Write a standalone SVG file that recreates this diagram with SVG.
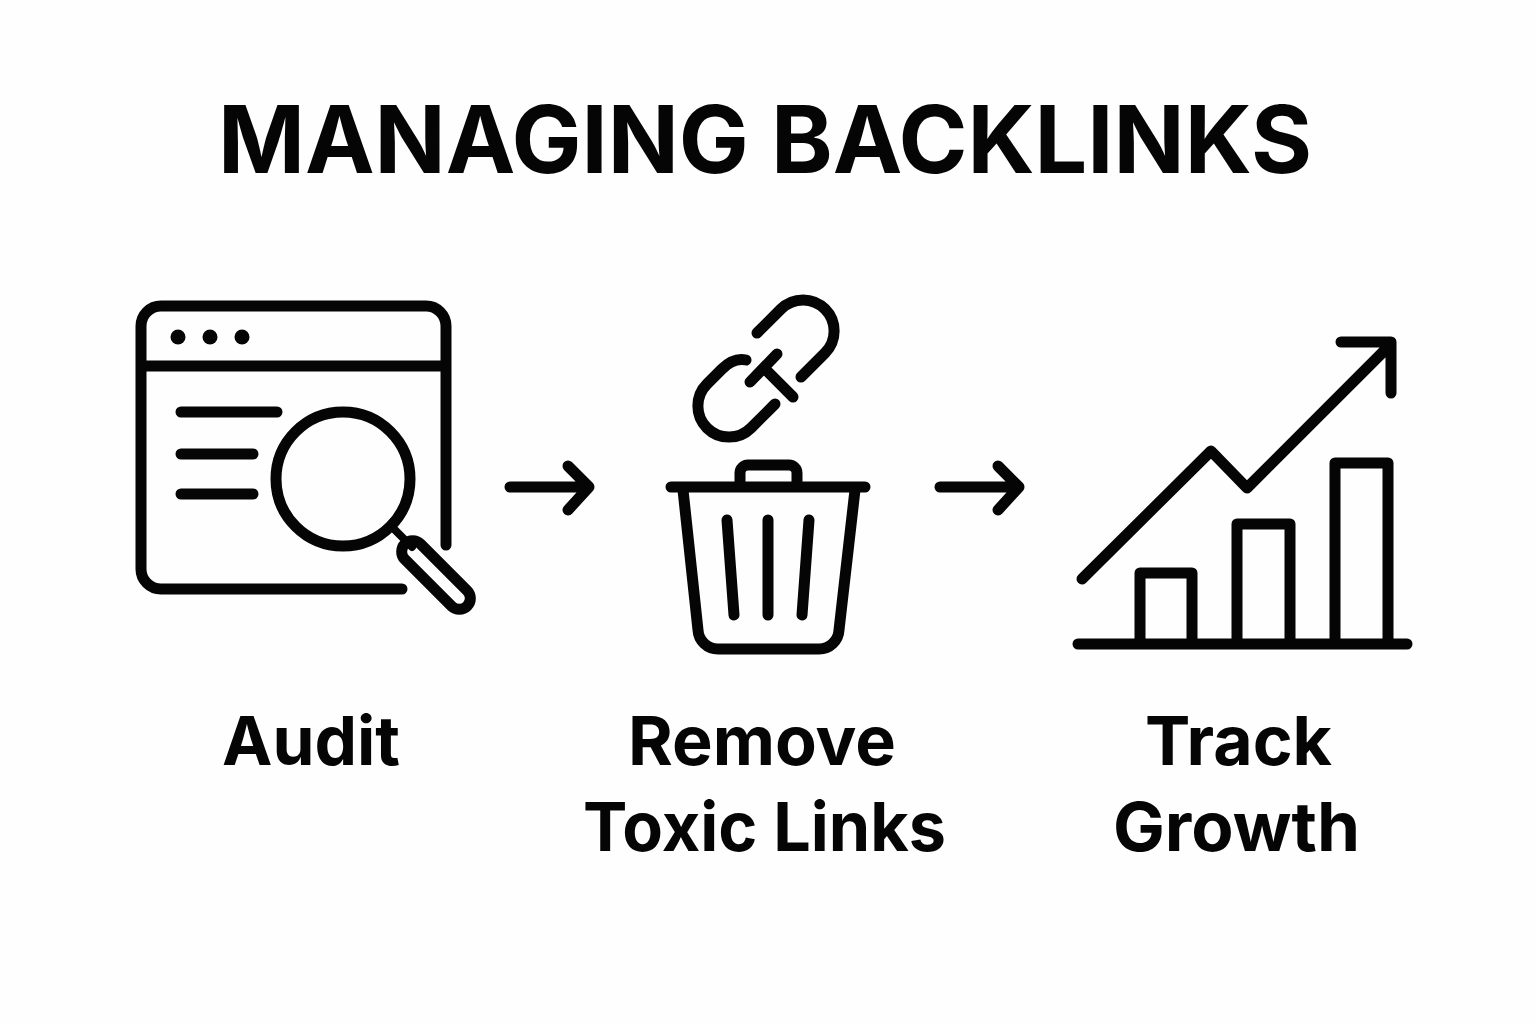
<svg xmlns="http://www.w3.org/2000/svg" width="1536" height="1024" viewBox="0 0 1536 1024">
<style>
.i{fill:none;stroke:#050505;stroke-width:11;stroke-linecap:round;stroke-linejoin:round}
text{font-family:Inter,"Liberation Sans",sans-serif;font-weight:700;fill:#050505;text-anchor:middle}
.t{font-size:94px}.l{font-size:68px}
</style>
<rect width="1536" height="1024" fill="#fefefe"/>
<text id="title" class="t" x="765" y="173" textLength="1094" lengthAdjust="spacingAndGlyphs">MANAGING BACKLINKS</text>
<g id="audit">
<path class="i" d="M446 545V326A20 20 0 0 0 426 306H161A20 20 0 0 0 141 326V569A20 20 0 0 0 161 589H402M141 366H446M181 412H277M181 454H253M181 494H253"/>
<circle cx="178" cy="337" r="7.5" fill="#050505"/><circle cx="210" cy="337" r="7.5" fill="#050505"/><circle cx="242" cy="337" r="7.5" fill="#050505"/>
<circle class="i" cx="343" cy="479" r="67"/>
<path class="i" d="M395 530L412 547" style="stroke-width:8"/>
<rect class="i" x="392" y="564" width="88" height="22" rx="11" transform="rotate(45 436 575)"/>
<text class="l" x="311" y="765" textLength="178" lengthAdjust="spacingAndGlyphs">Audit</text>
</g>
<g id="remove">
<path class="i" d="M757 333L781 309A31 31 0 0 1 825 353L801 377M746 360C737 358 729 362 722 369L707 384A31 31 0 0 0 751 428L775 404M750 382L777 354M764 368L793 397"/>
<path class="i" d="M671 487H865M740 487V473A8 8 0 0 1 748 465H789A8 8 0 0 1 797 473V487M683 490L698 630A20 20 0 0 0 718 649H819A20 20 0 0 0 839 630L855 490M727 520L734 615M768 520V615M809 520L802 615"/>
<text class="l" x="762" y="765" textLength="268" lengthAdjust="spacingAndGlyphs">Remove</text>
<text class="l" x="764.5" y="851" textLength="363" lengthAdjust="spacingAndGlyphs">Toxic Links</text>
</g>
<g id="track">
<path class="i" d="M1078 644H1407M1140 640V573H1192V640M1237 640V524H1290V640M1335 640V463H1388V640M1082 579L1211 451L1247 488L1390 345M1341 342H1391V393"/>
<text class="l" x="1238.5" y="765" textLength="187" lengthAdjust="spacingAndGlyphs">Track</text>
<text class="l" x="1236.5" y="851" textLength="247" lengthAdjust="spacingAndGlyphs">Growth</text>
</g>
<g id="connectors">
<path class="i" d="M510 487H589M568 466L589 487L568 510"/>
<path class="i" d="M940 487H1019M998 466L1019 487L998 510"/>
</g>
</svg>
